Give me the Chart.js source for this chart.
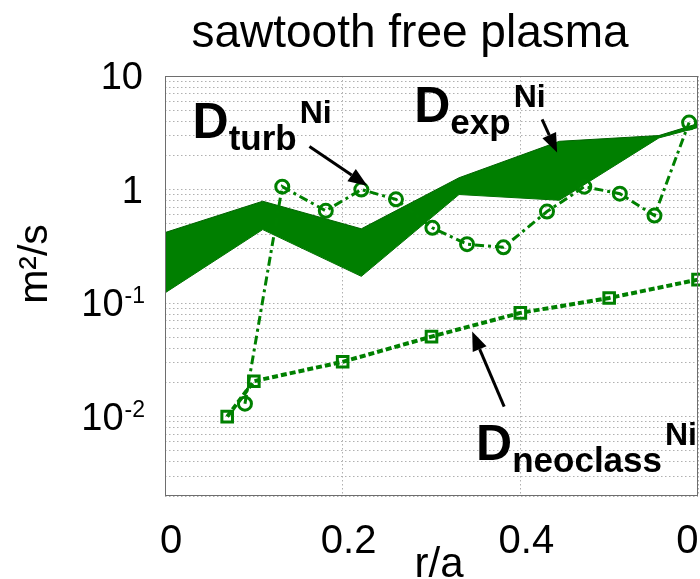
<!DOCTYPE html>
<html><head><meta charset="utf-8">
<script src="https://cdn.jsdelivr.net/npm/chart.js@4.4.1/dist/chart.umd.min.js"></script>
<style>html,body{margin:0;padding:0;background:#fff;} canvas{display:block;}</style>
</head><body>
<canvas id="c" width="700" height="579"></canvas>
<script>
// ---- text ----
const chartTitle = 'sawtooth free plasma';
const xAxisTitle = 'r/a';
const yAxisTitle = 'm²/s';
// ---- ticks ----
const xTickValues = [0, 0.2, 0.4, 0.6];
const xTickLabels = ['0', '0.2', '0.4', '0.6'];
const yMajorTicks = [0.01, 0.1, 1, 10];
const yTickBase = ['10', '10', '1', '10'];
const yTickExp = ['-2', '-1', '', ''];
const yMinorMultipliers = [1, 2, 3, 4, 5, 6, 7, 8, 9];
const yDecades = [0.001, 0.01, 0.1, 1, 10];
// ---- data ----
const turbR = [0.090, 0.132, 0.181, 0.221, 0.260, 0.301, 0.340, 0.381, 0.430, 0.472, 0.512, 0.551, 0.590];
const turbD = [0.013, 1.06, 0.65, 1.0, 0.82, 0.46, 0.33, 0.31, 0.64, 1.06, 0.92, 0.59, 3.89];
const neoR = [0.07, 0.10, 0.20, 0.30, 0.40, 0.50, 0.60];
const neoD = [0.010, 0.0205, 0.0304, 0.0507, 0.082, 0.111, 0.161];
const expR = [0, 0.110, 0.221, 0.331, 0.444, 0.556, 0.600];
const expUpper = [0.418, 0.789, 0.451, 1.27, 2.66, 2.99, 3.81];
const expLower = [0.123, 0.444, 0.172, 0.904, 0.805, 2.85, 3.52];
// ---- annotations (data coordinates) ----
const annMain = ['D', 'D', 'D'];
const annSub = ['turb', 'exp', 'neoclass'];
const annSup = ['Ni', 'Ni', 'Ni'];
const annR = [0.031, 0.2806, 0.3502];
const annD = [2.87, 3.97, 0.00418];
const arrowFromR = [0.1626, 0.4245, 0.3818];
const arrowFromD = [2.39, 4.14, 0.01225];
const arrowToR = [0.2278, 0.4414, 0.3458];
const arrowToD = [1.08, 2.12, 0.0561];

const FONT = '"Liberation Sans", Arial, Helvetica, sans-serif';
const GREEN = '#008000';

const yGridValues = [];
yDecades.forEach(d => yMinorMultipliers.forEach(m => {
  const v = +(d * m).toPrecision(3);
  if (v >= 0.002 && v <= 10) yGridValues.push(v);
}));

function drawArrow(ctx, x1, y1, x2, y2) {
  const ang = Math.atan2(y2 - y1, x2 - x1);
  const L = 19, W = 7.5;
  const bx = x2 - L * Math.cos(ang), by = y2 - L * Math.sin(ang);
  ctx.beginPath(); ctx.moveTo(x1, y1); ctx.lineTo(bx, by); ctx.stroke();
  ctx.beginPath(); ctx.moveTo(x2, y2);
  ctx.lineTo(bx - W * Math.sin(ang), by + W * Math.cos(ang));
  ctx.lineTo(bx + W * Math.sin(ang), by - W * Math.cos(ang));
  ctx.closePath(); ctx.fill();
}

const decor = {
  id: 'decor',
  afterDatasetsDraw(chart) {
    const {ctx, scales: {x, y}} = chart;
    ctx.save();
    ctx.fillStyle = '#000'; ctx.strokeStyle = '#000';
    ctx.lineWidth = 3; ctx.setLineDash([]);
    for (let i = 0; i < annMain.length; i++) {
      drawArrow(ctx, x.getPixelForValue(arrowFromR[i]), y.getPixelForValue(arrowFromD[i]),
                x.getPixelForValue(arrowToR[i]), y.getPixelForValue(arrowToD[i]));
      const px = x.getPixelForValue(annR[i]), py = y.getPixelForValue(annD[i]);
      ctx.textAlign = 'left'; ctx.textBaseline = 'alphabetic';
      ctx.font = 'bold 50px ' + FONT;
      ctx.fillText(annMain[i], px, py);
      const w1 = ctx.measureText(annMain[i]).width;
      ctx.font = 'bold 35px ' + FONT;
      ctx.fillText(annSub[i], px + w1, py + 12);
      const w2 = ctx.measureText(annSub[i]).width;
      ctx.font = 'bold 32px ' + FONT;
      ctx.fillText(annSup[i], px + w1 + w2 + 3, py - 15);
    }
    ctx.restore();
  },
  afterDraw(chart) {
    const {ctx, chartArea: a, scales: {y}} = chart;
    ctx.save();
    ctx.setLineDash([]);
    ctx.strokeStyle = '#6e6e6e'; ctx.lineWidth = 1;
    ctx.strokeRect(a.left + 0.5, a.top + 0.5, a.right - a.left - 1, a.bottom - a.top - 1);
    ctx.fillStyle = '#000';
    // title
    ctx.textAlign = 'center'; ctx.textBaseline = 'alphabetic';
    ctx.font = '46px ' + FONT;
    ctx.fillText(chartTitle, 410, 47);
    // x title
    ctx.font = '42px ' + FONT;
    ctx.fillText(xAxisTitle, 439, 577);
    // y tick labels
    const rightEdge = a.left - 20;
    for (let i = 0; i < yMajorTicks.length; i++) {
      const py = y.getPixelForValue(yMajorTicks[i]);
      ctx.textAlign = 'right';
      let xr = rightEdge;
      if (yTickExp[i]) {
        ctx.font = '23px ' + FONT;
        ctx.fillText(yTickExp[i], xr, py);
        xr -= ctx.measureText(yTickExp[i]).width + 1;
      } else {
        xr -= 2;
      }
      ctx.font = '38px ' + FONT;
      ctx.fillText(yTickBase[i], xr, py + 13);
    }
    // y title
    ctx.save();
    ctx.translate(47, 264);
    ctx.rotate(-Math.PI / 2);
    ctx.textAlign = 'center';
    ctx.font = '41px ' + FONT;
    ctx.fillText(yAxisTitle, 0, 0);
    ctx.restore();
    ctx.restore();
  }
};

const gridCommon = { color: '#b0b0b0', lineWidth: 1, drawTicks: false };
const borderCommon = { display: false, dash: [1.5, 2.5] };

new Chart(document.getElementById('c'), {
  type: 'line',
  data: {
    datasets: [
      { label: 'turb', data: turbR.map((r, i) => ({x: r, y: turbD[i]})),
        borderColor: GREEN, borderWidth: 3, borderDash: [9, 4, 3, 4],
        pointStyle: 'circle', pointRadius: 6.5, pointBorderWidth: 3,
        pointBorderColor: GREEN, pointBackgroundColor: 'rgba(0,0,0,0)', fill: false, clip: false },
      { label: 'neoclass', data: neoR.map((r, i) => ({x: r, y: neoD[i]})),
        borderColor: GREEN, borderWidth: 4, borderDash: [6, 3],
        pointStyle: 'rect', pointRadius: 7.5, pointBorderWidth: 3,
        pointBorderColor: GREEN, pointBackgroundColor: 'rgba(0,0,0,0)', fill: false, clip: false },
      { label: 'exp upper', data: expR.map((r, i) => ({x: r, y: expUpper[i]})),
        borderColor: '#006400', borderWidth: 1, pointRadius: 0,
        backgroundColor: '#007f00', fill: '+1' },
      { label: 'exp lower', data: expR.map((r, i) => ({x: r, y: expLower[i]})),
        borderColor: '#006400', borderWidth: 1, pointRadius: 0, fill: false }
    ]
  },
  options: {
    responsive: false, animation: false, devicePixelRatio: 1,
    layout: { autoPadding: false, padding: { top: 76, right: 2, left: 0, bottom: 0 } },
    elements: { line: { tension: 0 } },
    plugins: { legend: { display: false }, tooltip: { enabled: false }, title: { display: false } },
    scales: {
      x: {
        type: 'linear', min: 0, max: 0.6,
        afterBuildTicks: s => { s.ticks = xTickValues.map(v => ({value: v})); },
        afterFit: s => { s.height = 83; s.paddingLeft = 0; s.paddingRight = 0; },
        ticks: { autoSkip: false, maxRotation: 0, minRotation: 0, padding: 22, labelOffset: 6, color: '#000',
                 font: { family: FONT, size: 40 }, callback: (v, i) => xTickLabels[i] },
        grid: gridCommon, border: borderCommon
      },
      y: {
        type: 'logarithmic', min: 0.002, max: 10,
        afterBuildTicks: s => { s.ticks = yGridValues.map(v => ({value: v})); },
        afterFit: s => { s.width = 165; s.paddingTop = 0; s.paddingBottom = 0; },
        ticks: { display: false },
        grid: gridCommon, border: borderCommon
      }
    }
  },
  plugins: [decor]
});
</script>
</body></html>
